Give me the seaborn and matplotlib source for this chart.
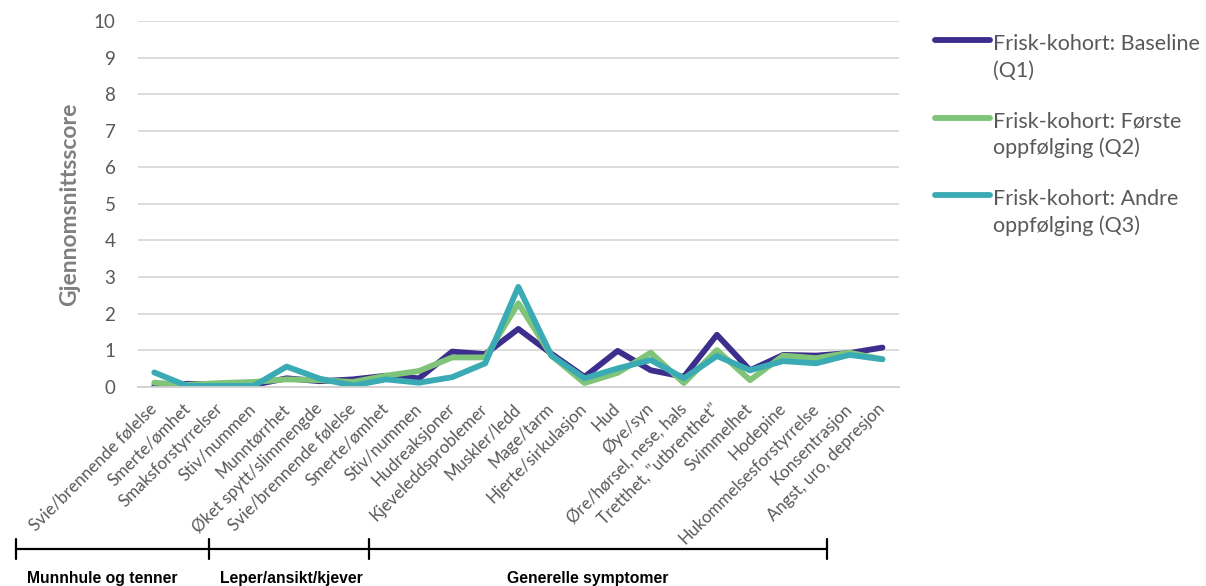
import numpy as np
import pandas as pd
import matplotlib
matplotlib.use("Agg")
import matplotlib.pyplot as plt
import seaborn as sns
from matplotlib.lines import Line2D

# ---------------- data ----------------
categories = [
    "Svie/brennende følelse", "Smerte/ømhet", "Smaksforstyrrelser", "Stiv/nummen",
    "Munntørrhet", "Øket spytt/slimmengde", "Svie/brennende følelse", "Smerte/ømhet",
    "Stiv/nummen", "Hudreaksjoner", "Kjeveleddsproblemer", "Muskler/ledd", "Mage/tarm",
    "Hjerte/sirkulasjon", "Hud", "Øye/syn", "Øre/hørsel, nese, hals",
    "Tretthet, \"utbrenthet\"", "Svimmelhet", "Hodepine", "Hukommelsesforstyrrelse",
    "Konsentrasjon", "Angst, uro, depresjon",
]
q1_baseline = [0.02, 0.08, 0.05, 0.05, 0.23, 0.15, 0.20, 0.30, 0.23, 0.96, 0.89, 1.58,
               0.90, 0.27, 0.98, 0.45, 0.27, 1.42, 0.45, 0.87, 0.85, 0.92, 1.07]
q2_forste = [0.11, 0.05, 0.10, 0.13, 0.20, 0.18, 0.13, 0.30, 0.43, 0.80, 0.80, 2.28,
             0.85, 0.10, 0.38, 0.93, 0.10, 1.00, 0.18, 0.85, 0.78, 0.93, 0.75]
q3_andre = [0.39, 0.02, 0.02, 0.02, 0.55, 0.22, 0.03, 0.20, 0.11, 0.26, 0.64, 2.73,
            0.85, 0.23, 0.50, 0.73, 0.23, 0.84, 0.45, 0.70, 0.64, 0.87, 0.75]
series_names = ["Frisk-kohort: Baseline (Q1)",
                "Frisk-kohort: Første oppfølging (Q2)",
                "Frisk-kohort: Andre oppfølging (Q3)"]
legend_lines = [["Frisk-kohort: Baseline", "(Q1)"],
                ["Frisk-kohort: Første", "oppfølging (Q2)"],
                ["Frisk-kohort: Andre", "oppfølging (Q3)"]]
series_colors = ["#3b2e8c", "#7fc478", "#3aabb4"]
y_label = "Gjennomsnittsscore"
group_labels = ["Munnhule og tenner", "Leper/ansikt/kjever", "Generelle symptomer"]

# ---------------- long-form frame ----------------
frames = []
for name, vals in zip(series_names, [q1_baseline, q2_forste, q3_andre]):
    frames.append(pd.DataFrame({"pos": np.arange(len(categories)), "score": vals,
                                "serie": name}))
df = pd.concat(frames, ignore_index=True)

# ---------------- figure ----------------
sns.set_style("white")
plt.rcParams["font.family"] = ["Lato", "DejaVu Sans"]
W, H = 1206, 586
fig = plt.figure(figsize=(W / 100, H / 100), dpi=100)
ax = fig.add_axes([137.7 / W, 1 - 386.7 / H, (899 - 137.7) / W, (386.7 - 21) / H])

sns.lineplot(data=df, x="pos", y="score", hue="serie", palette=series_colors,
             hue_order=series_names, linewidth=4.2, ax=ax, legend=False,
             solid_capstyle="round", solid_joinstyle="round")

n = len(categories)
ax.set_xlim(-0.5, n - 0.5)
ax.set_ylim(0, 10)
ax.set_yticks(range(0, 11))
ax.yaxis.grid(True, color="#d9d9d9", linewidth=1.3)
ax.set_axisbelow(True)
for s in ["top", "right", "left"]:
    ax.spines[s].set_visible(False)
ax.spines["bottom"].set_color("#d0d0d0")
ax.spines["bottom"].set_linewidth(1.3)

tick_gray = "#595959"
ax.tick_params(axis="y", length=0, pad=16, labelsize=13.5, labelcolor=tick_gray)
ax.set_xticks(np.arange(n))
ax.set_xticklabels(categories, rotation=45, ha="right", va="center",
                   rotation_mode="anchor", fontsize=12.2, color=tick_gray)
ax.tick_params(axis="x", which="major", length=0, pad=14)
ax.set_xticks(np.arange(-0.5, n, 1.0), minor=True)
ax.tick_params(axis="x", which="minor", length=5, width=1.3, color="#d0d0d0",
               direction="out")
ax.set_xlabel("")
ax.set_ylabel(y_label, fontsize=16.5, fontweight="bold", color="#7f7f7f", labelpad=10)

# ---------------- legend (manual, handle aligned with first line) ----------------
for i, (lines, col) in enumerate(zip(legend_lines, series_colors)):
    yl = 40 + 77.5 * i
    fig.add_artist(Line2D([935 / W, 990 / W], [1 - yl / H, 1 - yl / H], color=col,
                          linewidth=4.2, solid_capstyle="round"))
    for j, txt in enumerate(lines):
        fig.text(993 / W, 1 - (yl + 10 + 27 * j) / H, txt, ha="left", va="baseline",
                 fontsize=15.5, color=tick_gray)

# ---------------- group brackets ----------------
bx = [16, 208.7, 368.7, 826.7]
by = 549
fig.add_artist(Line2D([bx[0] / W, bx[-1] / W], [1 - by / H, 1 - by / H], color="black",
                      linewidth=1.6))
for x in bx:
    fig.add_artist(Line2D([x / W, x / W], [1 - 539 / H, 1 - 559 / H], color="black",
                          linewidth=1.6))
label_x = [102, 291, 588]
for lx, lab in zip(label_x, group_labels):
    fig.text(lx / W, 1 - 579 / H, lab, ha="center", va="center", fontsize=11.3,
             fontweight="bold", family=["Liberation Sans", "DejaVu Sans"], color="black")

fig.savefig("out.png", dpi=100)
